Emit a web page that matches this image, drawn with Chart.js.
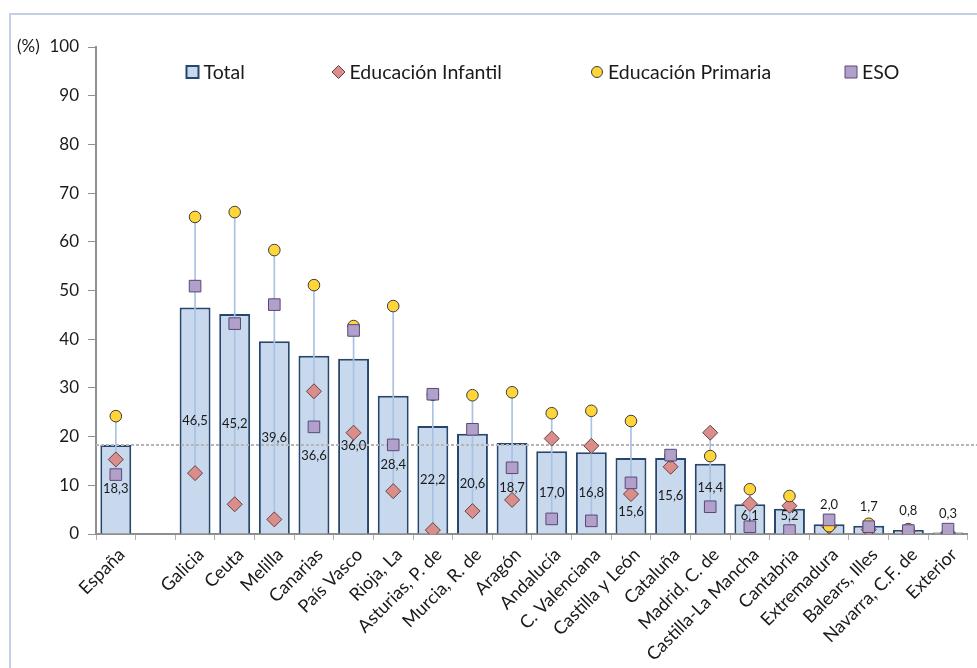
<!DOCTYPE html>
<html lang="es">
<head>
<meta charset="utf-8">
<title>Alumnado por comunidad</title>
<script src="https://cdn.jsdelivr.net/npm/chart.js@4.4.1/dist/chart.umd.min.js"></script>
<style>
  html, body { margin: 0; padding: 0; background: #fff; }
  #wrap { position: relative; width: 977px; height: 668px; overflow: hidden; }
  #frame {
    position: absolute; left: 9px; top: 13px; width: 1000px; height: 700px;
    border-left: 2px solid #c3cfe4; border-top: 2px solid #c3cfe4;
  }
  #graph { position: absolute; left: 0; top: 0; }
</style>
</head>
<body>
<div id="wrap">
  <div id="frame"></div>
  <canvas id="graph" width="977" height="668"></canvas>
</div>
<script>
"use strict";
const REGIONS = [
    "España", "", "Galicia", "Ceuta", "Melilla", "Canarias", "País Vasco", "Rioja, La",
    "Asturias, P. de", "Murcia, R. de", "Aragón", "Andalucía", "C. Valenciana",
    "Castilla y León", "Cataluña", "Madrid, C. de", "Castilla-La Mancha", "Cantabria",
    "Extremadura", "Balears, Illes", "Navarra, C.F. de", "Exterior",
];
const TOTAL = [
    18.3, null, 46.5, 45.2, 39.6, 36.6, 36.0, 28.4, 22.2, 20.6, 18.7,
    17.0, 16.8, 15.6, 15.6, 14.4, 6.1, 5.2, 2.0, 1.7, 0.8, 0.3,
];
const INFANTIL = [
    15.3, null, 12.5, 6.1, 3.0, 29.3, 20.8, 8.8, 0.8, 4.7, 7.0,
    19.6, 18.1, 8.2, 13.8, 20.8, 6.2, 5.8, 1.5, 0.9, 0.6, 0.2,
];
const PRIMARIA = [
    24.2, null, 65.1, 66.1, 58.3, 51.1, 42.7, 46.8, 28.6, 28.5, 29.1,
    24.8, 25.3, 23.2, 16.0, 16.0, 9.2, 7.8, 1.6, 2.1, 1.0, 0.4,
];
const ESO = [
    12.2, null, 50.9, 43.2, 47.1, 22.0, 41.8, 18.3, 28.7, 21.5, 13.6,
    3.1, 2.7, 10.5, 16.2, 5.6, 1.5, 0.7, 2.9, 1.5, 0.7, 1.0,
];
const Y_TICKS = [0, 10, 20, 30, 40, 50, 60, 70, 80, 90, 100];

const FONT = "Lato, 'Open Sans', sans-serif";
const TEXT = "#1a1a1a";

// high-low range for each region, from the three level series
const RANGES = REGIONS.map(function (r, i) {
    if (TOTAL[i] === null) return null;
    const v = [INFANTIL[i], PRIMARIA[i], ESO[i]];
    return [Math.min.apply(null, v), Math.max.apply(null, v)];
});

// a few value labels were moved by hand in the original (pixels, + is down)
const LABEL_NUDGE = { 5: 11, 13: 16, 15: -11, 16: -3, 17: -5 };

function fmt(v) {
    return v.toFixed(1).replace(".", ",");
}

function drawMarker(ctx, style, x, y, r) {
    ctx.beginPath();
    if (style === "circle") {
        ctx.arc(x, y, r, 0, Math.PI * 2);
    } else if (style === "rectRot") {
        ctx.moveTo(x - r, y);
        ctx.lineTo(x, y - r);
        ctx.lineTo(x + r, y);
        ctx.lineTo(x, y + r);
        ctx.closePath();
    } else {
        ctx.rect(x - r, y - r, 2 * r, 2 * r);
    }
    ctx.fill();
    ctx.stroke();
}

const extras = {
    id: "extras",
    afterDatasetDraw(chart, args) {
        // dotted reference line at the national total, over the bars
        if (args.index !== 0) return;
        const ctx = chart.ctx;
        const y = chart.scales.y.getPixelForValue(TOTAL[0]);
        ctx.save();
        ctx.strokeStyle = "#b5b5b5";
        ctx.lineWidth = 2;
        ctx.setLineDash([3, 2]);
        ctx.beginPath();
        ctx.moveTo(chart.chartArea.left, y);
        ctx.lineTo(chart.width, y);
        ctx.stroke();
        ctx.restore();
    },
    afterDatasetsDraw(chart) {
        const ctx = chart.ctx;
        const bars = chart.getDatasetMeta(0).data;
        ctx.save();
        ctx.font = "13px " + FONT;
        ctx.fillStyle = TEXT;
        ctx.textAlign = "center";
        ctx.textBaseline = "middle";
        TOTAL.forEach(function (v, i) {
            if (v === null) return;
            const b = bars[i];
            let y = (b.y + b.base) / 2 + (LABEL_NUDGE[i] || 0);
            if (v < 3) y = b.y - 19;
            ctx.fillText(fmt(v), b.x, y);
        });
        ctx.restore();
    },
    afterDraw(chart) {
        const ctx = chart.ctx;
        const yScale = chart.scales.y;
        ctx.save();
        ctx.font = "17px " + FONT;
        ctx.fillStyle = TEXT;
        ctx.textBaseline = "middle";
        ctx.fillText("(%)", 17, yScale.getPixelForValue(100));

        // legend
        const pos = [192.5, 338.5, 597, 851];
        ctx.font = "19.5px " + FONT;
        chart.data.datasets.filter(function (d) { return d.inLegend; }).forEach(function (d, k) {
            const x = pos[k], y = 72;
            ctx.fillStyle = d.backgroundColor;
            ctx.strokeStyle = d.borderColor;
            ctx.lineWidth = d.type === "bar" ? 2 : 1;
            if (d.type === "bar") drawMarker(ctx, "rect", x, y, 6);
            else if (d.pointStyle === "circle") drawMarker(ctx, "circle", x, y, 5.5);
            else if (d.pointStyle === "rectRot") drawMarker(ctx, "rectRot", x, y, 6.5);
            else drawMarker(ctx, "rect", x, y, 6);
            ctx.fillStyle = TEXT;
            ctx.fillText(d.label, x + 11, y + 1);
        });
        ctx.restore();
    },
};

function drawGraph() {
    const data = {
        labels: REGIONS,
        datasets: [
            {
                type: "bar",
                label: "Total",
                inLegend: true,
                data: TOTAL,
                backgroundColor: "#c9d9ed",
                borderColor: "#26466d",
                borderWidth: 2,
                borderSkipped: "bottom",
                barPercentage: 0.78,
                categoryPercentage: 1,
                grouped: false,
                order: 4,
            },
            {
                type: "bar",
                label: "rango",
                data: RANGES,
                backgroundColor: "#a7c2e3",
                borderWidth: 0,
                barThickness: 1,
                grouped: false,
                order: 3,
            },
            {
                type: "line",
                label: "Educación Infantil",
                inLegend: true,
                data: INFANTIL,
                showLine: false,
                pointStyle: "rectRot",
                pointRadius: 7.5,
                backgroundColor: "#d98e8c",
                borderColor: "#6a4040",
                borderWidth: 1,
                order: 2,
            },
            {
                type: "line",
                label: "Educación Primaria",
                inLegend: true,
                data: PRIMARIA,
                showLine: false,
                pointStyle: "circle",
                pointRadius: 5.8,
                backgroundColor: "#ffd53a",
                borderColor: "#3d3d3d",
                borderWidth: 1,
                order: 1,
            },
            {
                type: "line",
                label: "ESO",
                inLegend: true,
                data: ESO,
                showLine: false,
                pointStyle: "rect",
                pointRadius: 8.2,
                backgroundColor: "#b1a0c9",
                borderColor: "#5a4878",
                borderWidth: 1,
                order: 0,
            },
        ],
    };
    const config = {
        type: "bar",
        data,
        plugins: [extras],
        options: {
            responsive: false,
            animation: false,
            layout: { padding: { top: 47, right: 1, left: 0, bottom: 0 } },
            plugins: {
                legend: { display: false },
                tooltip: { enabled: false },
            },
            scales: {
                x: {
                    offset: true,
                    afterFit: function (s) { s.height = 134; },
                    border: { color: "#8f8f8f", width: 2 },
                    grid: {
                        offset: true,
                        drawOnChartArea: false,
                        color: "#b0b0b0",
                        tickLength: 6,
                    },
                    ticks: {
                        autoSkip: false,
                        minRotation: 45,
                        maxRotation: 45,
                        padding: 4,
                        labelOffset: 6,
                        color: TEXT,
                        font: { family: FONT, size: 18 },
                    },
                },
                y: {
                    min: 0,
                    max: 100,
                    afterFit: function (s) { s.width = 96; },
                    afterBuildTicks: function (s) {
                        s.ticks = Y_TICKS.map(function (v) { return { value: v }; });
                    },
                    border: { color: "#8f8f8f", width: 2 },
                    grid: {
                        drawOnChartArea: false,
                        color: "#8f8f8f",
                        tickLength: 8,
                    },
                    ticks: {
                        padding: 9,
                        color: TEXT,
                        font: { family: FONT, size: 17 },
                    },
                },
            },
        },
    };
    new Chart(document.getElementById("graph"), config);
}
drawGraph();
</script>
</body>
</html>
